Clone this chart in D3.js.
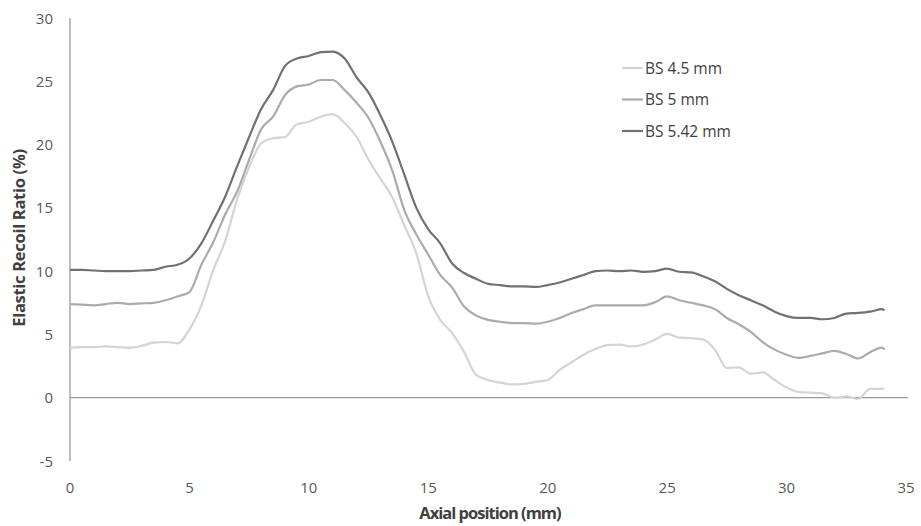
<!DOCTYPE html>
<html><head><meta charset="utf-8">
<script src="https://cdn.jsdelivr.net/npm/d3@7"></script>
<style>body{margin:0;background:#fff}svg{display:block}</style>
</head><body><svg id="c" width="921" height="526"></svg>
<script>
const xPos = [0,0.5,1,1.5,2,2.5,3,3.5,4,4.5,5,5.5,6,6.5,7,7.5,8,8.5,9,9.5,10,10.5,11,11.5,12,12.5,13,13.5,14,14.5,15,15.5,16,16.5,17,17.5,18,18.5,19,19.5,20,20.5,21,21.5,22,22.5,23,23.5,24,24.5,25,25.5,26,26.5,27,27.5,28,28.5,29,29.5,30,30.5,31,31.5,32,32.5,33,33.5,34,34.1];
const bs45 = [3.95,4.0,4.0,4.05,4.0,3.95,4.1,4.35,4.4,4.3,5.4,7.3,10.1,12.4,15.7,18.2,20.1,20.5,20.6,21.6,21.8,22.2,22.4,21.7,20.6,18.8,17.3,15.8,13.6,11.4,8.0,6.15,5.1,3.6,1.8,1.4,1.2,1.05,1.1,1.25,1.4,2.2,2.8,3.4,3.85,4.15,4.2,4.05,4.2,4.6,5.05,4.75,4.7,4.6,3.8,2.35,2.4,1.9,2.0,1.4,0.8,0.45,0.4,0.35,0.0,0.1,-0.1,0.7,0.7,0.75];
const bs5 = [7.4,7.35,7.3,7.4,7.5,7.4,7.45,7.5,7.7,8.0,8.35,10.5,12.3,14.5,16.3,18.8,21.2,22.2,23.9,24.6,24.75,25.1,25.1,24.3,23.3,22.1,20.2,17.9,14.8,12.9,11.3,9.7,8.7,7.2,6.5,6.15,6.0,5.9,5.9,5.85,6.0,6.3,6.7,7.0,7.3,7.3,7.3,7.3,7.3,7.55,8.0,7.7,7.5,7.3,7.0,6.3,5.8,5.2,4.4,3.8,3.4,3.15,3.3,3.5,3.7,3.45,3.1,3.6,3.95,3.8];
const bs542 = [10.1,10.1,10.05,10.0,10.0,10.0,10.05,10.1,10.35,10.5,11.0,12.2,14.0,15.9,18.3,20.6,22.8,24.3,26.2,26.8,27.0,27.3,27.35,26.8,25.3,24.1,22.3,20.2,17.6,15.0,13.3,12.2,10.6,9.85,9.4,9.0,8.9,8.8,8.8,8.75,8.9,9.1,9.4,9.7,10.0,10.05,10.0,10.05,9.95,10.0,10.2,9.95,9.9,9.6,9.2,8.6,8.1,7.7,7.3,6.8,6.45,6.3,6.3,6.2,6.3,6.65,6.7,6.8,7.0,6.9];
const seriesNames = ["BS 4.5 mm","BS 5 mm","BS 5.42 mm"];
const xTicks = [0,5,10,15,20,25,30,35];
const yTicks = [-5,0,5,10,15,20,25,30];

const series = [
  {name: seriesNames[0], values: bs45, color: "#d4d4d4"},
  {name: seriesNames[1], values: bs5, color: "#ababab"},
  {name: seriesNames[2], values: bs542, color: "#717171"}
];

const svg = d3.select("#c");
const x = d3.scaleLinear().domain([0,35]).range([70,906]);
const y = d3.scaleLinear().domain([-5,30]).range([461,18]);
const font = "'Open Sans', sans-serif";

svg.append("line").attr("x1",x(0)).attr("x2",x(0)).attr("y1",y(30)).attr("y2",y(-5))
  .attr("stroke","#9a9a9a").attr("stroke-width",1.3);
svg.append("line").attr("x1",x(0)).attr("x2",x(35)+2).attr("y1",y(0)).attr("y2",y(0))
  .attr("stroke","#9a9a9a").attr("stroke-width",1.3);

svg.selectAll(".yt").data(yTicks).enter().append("text")
  .attr("x",53).attr("y",d=>y(d)+5.5).attr("text-anchor","end")
  .attr("font-family",font).attr("font-size",15).attr("fill","#595959").text(d=>d);
svg.selectAll(".xt").data(xTicks).enter().append("text")
  .attr("x",d=>x(d)).attr("y",493).attr("text-anchor","middle")
  .attr("font-family",font).attr("font-size",15).attr("fill","#595959").text(d=>d);

svg.append("text").attr("x",490).attr("y",519).attr("text-anchor","middle")
  .attr("font-family",font).attr("font-size",16.5).attr("font-weight","bold")
  .attr("letter-spacing","-1").attr("fill","#404040").text("Axial position (mm)");
svg.append("text").attr("transform","translate(25,238) rotate(-90)").attr("text-anchor","middle")
  .attr("font-family",font).attr("font-size",16.5).attr("font-weight","bold")
  .attr("letter-spacing","-0.3").attr("fill","#404040").text("Elastic Recoil Ratio (%)");

const line = d3.line().x((d,i)=>x(xPos[i])).y(d=>y(d)).curve(d3.curveMonotoneX);
series.forEach(s=>{
  svg.append("path").datum(s.values).attr("d",line).attr("fill","none")
    .attr("stroke",s.color).attr("stroke-width",2.2).attr("stroke-linejoin","round");
});

const lg = svg.append("g");
series.forEach((s,i)=>{
  const yy = 68 + i*31.5;
  lg.append("line").attr("x1",622).attr("x2",643).attr("y1",yy).attr("y2",yy)
    .attr("stroke",s.color).attr("stroke-width",2.2);
  lg.append("text").attr("x",645).attr("y",yy+5.5).attr("font-family",font)
    .attr("font-size",15.5).attr("fill","#404040").text(s.name);
});
</script>
</body></html>
